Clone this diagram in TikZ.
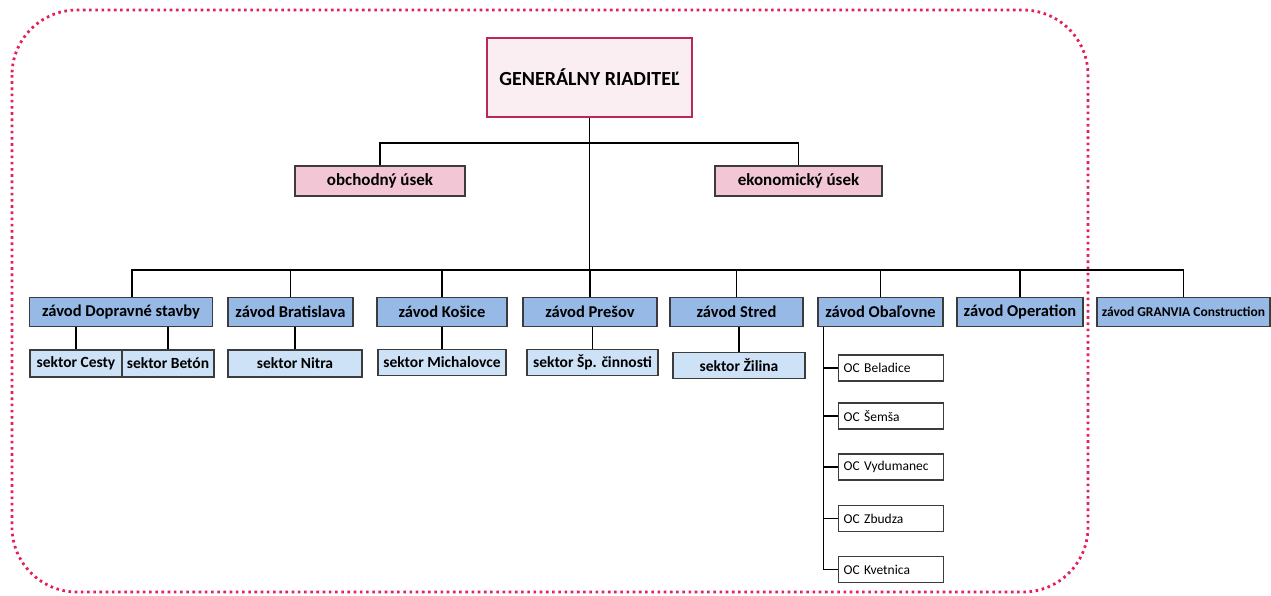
\documentclass[tikz,border=0pt]{standalone}
\usepackage{fontspec}
\setmainfont{Carlito}
\usetikzlibrary{calc}
\definecolor{frame red}{RGB}{228,32,86}
\definecolor{gr border}{RGB}{185,40,90}
\definecolor{gr fill}{RGB}{250,238,243}
\definecolor{usek fill}{RGB}{242,198,212}
\definecolor{zavod fill}{RGB}{150,185,230}
\definecolor{sektor fill}{RGB}{205,225,247}
\definecolor{box line}{RGB}{60,60,60}
\tikzset{
    node style gr/.style={draw=gr border,line width=1.8pt,fill=gr fill,inner sep=0pt,minimum width=205pt,minimum height=79pt,font=\bfseries\fontsize{20}{22}\selectfont},
    node style us/.style={draw=box line,line width=1.2pt,fill=usek fill,inner sep=0pt,minimum height=30pt,font=\bfseries\fontsize{17}{19}\selectfont},
    node style za/.style={draw=box line,line width=1.2pt,fill=zavod fill,inner sep=0pt,minimum height=29pt,font=\bfseries\fontsize{16.5}{18}\selectfont},
    node style se/.style={draw=box line,line width=1.2pt,fill=sektor fill,inner sep=0pt,minimum height=26pt,font=\bfseries\fontsize{15.5}{17}\selectfont},
    node style oc/.style={draw=box line,line width=1.2pt,fill=white,anchor=west,inner xsep=5pt,inner ysep=0pt,text width=95pt,align=left,minimum height=26pt,font=\fontsize{13.5}{15}\selectfont},
    line style/.style={line width=1.1pt,black},
}

\begin{document}
\begin{tikzpicture}[x=1pt,y=-1pt]
  \useasboundingbox (0,0) rectangle (1271,595);
  % dotted frame
  \draw[frame red,line width=2.8pt,dash pattern=on 2.6pt off 3.6pt,rounded corners=65pt] (12,10) rectangle (1088,592);

  \node[node style gr] (gr) at (589.5,77.5) {GENERÁLNY RIADITEĽ};
  \node[node style us,minimum width=170pt] (obch) at (380,181) {obchodný úsek};
  \node[node style us,minimum width=167pt] (ekon) at (798.5,181) {ekonomický úsek};

  % zavody
  \node[node style za,minimum width=183pt] (dop) at (121,312) {závod Dopravné stavby};
  \node[node style za,minimum width=125pt] (brat) at (290.5,312) {závod Bratislava};
  \node[node style za,minimum width=130pt] (kos) at (442,312) {závod Košice};
  \node[node style za,minimum width=134pt] (pres) at (590,312) {závod Prešov};
  \node[node style za,minimum width=133pt] (stred) at (736.5,312) {závod Stred};
  \node[node style za,minimum width=125pt] (obal) at (880.5,312) {závod Obaľovne};
  \node[node style za,minimum width=126pt] (oper) at (1020,312) {závod Operation};
  \node[node style za,minimum width=173pt,font=\bfseries\fontsize{13.5}{15}\selectfont] (gran) at (1183.5,312) {závod GRANVIA Construction};

  % sektory
  \node[node style se,minimum width=92pt,minimum height=27pt] (cesty) at (76,363.5) {sektor Cesty};
  \node[node style se,minimum width=92pt,minimum height=27pt] (beton) at (168,363.5) {sektor Betón};
  \node[node style se,minimum width=134pt,minimum height=27pt] (nitra) at (295,363.5) {sektor Nitra};
  \node[node style se,minimum width=128pt] (mich) at (442,362.5) {sektor Michalovce};
  \node[node style se,minimum width=131pt] (spc) at (592.5,362.5) {sektor Šp. činnosti};
  \node[node style se,minimum width=132pt] (zilina) at (739,365.5) {sektor Žilina};

  % obalovne
  \node[node style oc] (bel) at (838,368) {OC Beladice};
  \node[node style oc] (sem) at (838,416) {OC Šemša};
  \node[node style oc] (vyd) at (838,467) {OC Vydumanec};
  \node[node style oc] (zbu) at (838,518.5) {OC Zbudza};
  \node[node style oc] (kvet) at (838,569.5) {OC Kvetnica};

  % connectors
  \coordinate (brnch) at (589.5,143);
  \coordinate (bus) at (589.5,270);
  \draw[line style] (gr.south) -- (bus);
  \draw[line style] (obch.north) |- (brnch) -| (ekon.north);
  \draw[line style] ([xshift=11pt]dop.north) |- (bus) -| (gran.north);
  \foreach \z in {brat,kos,pres,stred,obal,oper}
    \draw[line style] (\z.north) -- (\z.north |- bus);
  \draw[line style] (cesty.north) -- (cesty.north |- dop.south);
  \draw[line style] (beton.north) -- (beton.north |- dop.south);
  \draw[line style] (nitra.north) -- (nitra.north |- brat.south);
  \draw[line style] (mich.north) -- (mich.north |- kos.south);
  \draw[line style] (spc.north) -- (spc.north |- pres.south);
  \draw[line style] (zilina.north) -- (zilina.north |- stred.south);
  \coordinate (ocbus) at ([xshift=6pt]obal.south west);
  \draw[line style] (ocbus) |- (kvet.west);
  \foreach \o in {bel,sem,vyd,zbu}
    \draw[line style] (\o.west) -- (\o.west -| ocbus);
\end{tikzpicture}
\end{document}
